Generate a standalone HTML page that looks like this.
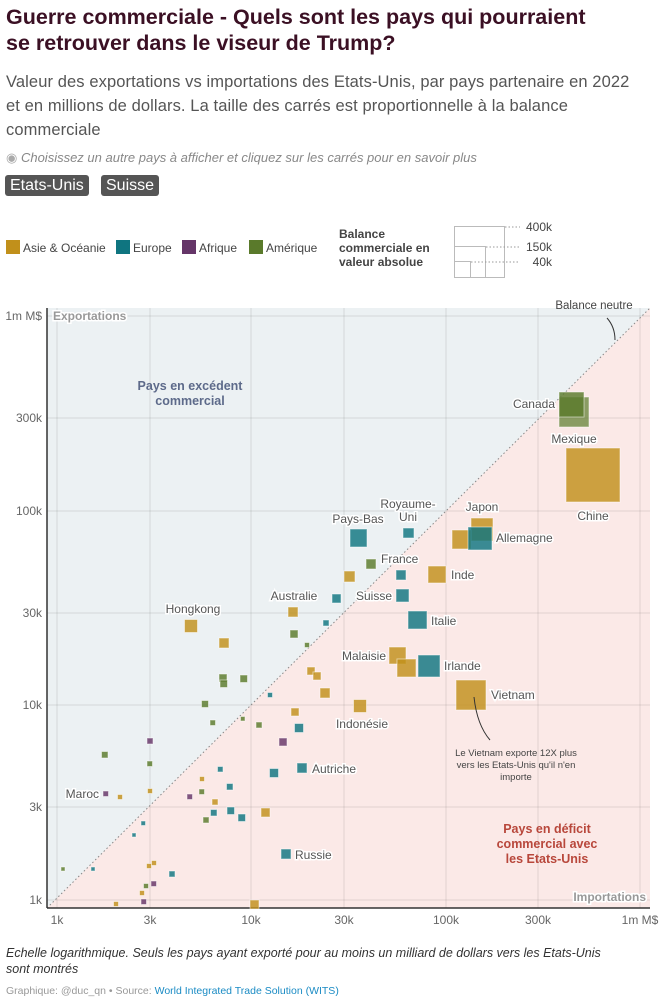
<!DOCTYPE html>
<html><head><meta charset="utf-8"><style>
body{margin:0;width:666px;height:998px;background:#fff;font-family:"Liberation Sans",sans-serif;overflow:hidden;position:relative}
.t{position:absolute;left:6px;top:4px;font-size:21.5px;font-weight:bold;color:#3b1024;line-height:26px;width:598px}
.s{position:absolute;left:6px;top:70px;font-size:16.5px;color:#555;line-height:24px;width:630px;letter-spacing:0.1px}
.n{position:absolute;left:6px;top:150px;font-size:13px;font-style:italic;color:#888}
.b{position:absolute;top:175px;height:21px;background:#555;color:#fff;font-size:16px;line-height:21px;padding:0 5px;border-radius:3px}
.f{position:absolute;left:6px;top:945px;font-size:12.5px;font-style:italic;color:#333;line-height:16px;width:620px}
.g{position:absolute;left:6px;top:985px;font-size:10.5px;color:#999}
</style></head><body>
<div class="t">Guerre commerciale - Quels sont les pays qui pourraient se retrouver dans le viseur de Trump?</div>
<div class="s">Valeur des exportations vs importations des Etats-Unis, par pays partenaire en 2022 et en millions de dollars. La taille des carrés est proportionnelle à la balance commerciale</div>
<div class="n"><span style="font-style:normal;color:#aaa">◉</span> Choisissez un autre pays à afficher et cliquez sur les carrés pour en savoir plus</div>
<div class="b" style="left:5px">Etats-Unis</div><div class="b" style="left:101px">Suisse</div>
<svg width="666" height="998" style="position:absolute;left:0;top:0" font-family="Liberation Sans, sans-serif">
<g font-size="12" fill="#444">
<rect x="6" y="240" width="14" height="14" fill="#c1901b"/><text x="23" y="252">Asie &amp; Océanie</text>
<rect x="116" y="240" width="14" height="14" fill="#0f7580"/><text x="133" y="252">Europe</text>
<rect x="182" y="240" width="14" height="14" fill="#653568"/><text x="199" y="252">Afrique</text>
<rect x="249" y="240" width="14" height="14" fill="#5a7a2b"/><text x="266" y="252">Amérique</text>
</g>
<g font-size="12" font-weight="bold" fill="#444"><text x="339" y="238">Balance</text><text x="339" y="252">commerciale en</text><text x="339" y="266">valeur absolue</text></g>
<g fill="none" stroke="#bbb"><rect x="454.5" y="226.5" width="50" height="51"/><rect x="454.5" y="246.5" width="31" height="31"/><rect x="454.5" y="261.5" width="16" height="16"/></g>
<g stroke="#999" stroke-dasharray="1.5,2"><line x1="505" y1="227" x2="520" y2="227"/><line x1="486" y1="247" x2="520" y2="247"/><line x1="471" y1="262" x2="520" y2="262"/></g>
<g font-size="12" fill="#444" text-anchor="end"><text x="552" y="231">400k</text><text x="552" y="251">150k</text><text x="552" y="266">40k</text></g>
<polygon points="47,308 650,308 47,908" fill="#ecf1f3"/>
<polygon points="650,308 650,908 47,908" fill="#fbe9e7"/>
<g stroke="#000" stroke-opacity="0.1">
<line x1="57" y1="308" x2="57" y2="908"/><line x1="150" y1="308" x2="150" y2="908"/><line x1="251" y1="308" x2="251" y2="908"/><line x1="344" y1="308" x2="344" y2="908"/><line x1="446" y1="308" x2="446" y2="908"/><line x1="538" y1="308" x2="538" y2="908"/><line x1="640" y1="308" x2="640" y2="908"/>
<line x1="47" y1="316" x2="650" y2="316"/><line x1="47" y1="418" x2="650" y2="418"/><line x1="47" y1="511" x2="650" y2="511"/><line x1="47" y1="613" x2="650" y2="613"/><line x1="47" y1="705" x2="650" y2="705"/><line x1="47" y1="807" x2="650" y2="807"/><line x1="47" y1="900" x2="650" y2="900"/>
</g>
<line x1="47" y1="908" x2="650" y2="308" stroke="#888" stroke-dasharray="1.5,2.5"/>
<line x1="47" y1="308" x2="47" y2="908" stroke="#333" stroke-width="1.5"/>
<line x1="47" y1="908" x2="650" y2="908" stroke="#333" stroke-width="1.5"/>
<g font-size="12" fill="#666" text-anchor="end"><text x="42" y="320">1m M$</text><text x="42" y="422">300k</text><text x="42" y="515">100k</text><text x="42" y="617">30k</text><text x="42" y="709">10k</text><text x="42" y="811">3k</text><text x="42" y="904">1k</text></g>
<g font-size="12" fill="#666" text-anchor="middle"><text x="57" y="924">1k</text><text x="150" y="924">3k</text><text x="251" y="924">10k</text><text x="344" y="924">30k</text><text x="446" y="924">100k</text><text x="538" y="924">300k</text><text x="640" y="924">1m M$</text></g>
<g font-size="12" font-weight="bold" fill="#999" stroke="#fff" stroke-width="3" paint-order="stroke"><text x="53" y="320">Exportations</text><text x="646" y="901" text-anchor="end">Importations</text></g>
<g font-size="12.5" font-weight="bold" fill="#5d6a8a" text-anchor="middle"><text x="190" y="390">Pays en excédent</text><text x="190" y="405">commercial</text></g>
<g font-size="12.5" font-weight="bold" fill="#b8473b" text-anchor="middle"><text x="547" y="833">Pays en déficit</text><text x="547" y="848">commercial avec</text><text x="547" y="863">les Etats-Unis</text></g>
<text x="594" y="309" font-size="11.5" fill="#444" text-anchor="middle">Balance neutre</text>
<path d="M607,318 Q615,327 615,340" fill="none" stroke="#333"/>
<g stroke="#fff" stroke-opacity="0.5" stroke-width="1" fill-opacity="0.82">
<g fill="#c1901b">
<rect x="566" y="448" width="54" height="54"/><rect x="471" y="518" width="22" height="23"/><rect x="452" y="530" width="19" height="19"/>
<rect x="344" y="571" width="11" height="11"/><rect x="428" y="566" width="18" height="17"/><rect x="389" y="647" width="17" height="17"/><rect x="397" y="659" width="19" height="18"/>
<rect x="456" y="680" width="30" height="30"/>
<rect x="184.5" y="619.5" width="13" height="13"/><rect x="219" y="638" width="10" height="10"/><rect x="288" y="607" width="10" height="10"/>
<rect x="307" y="667" width="8" height="8"/><rect x="313" y="672" width="8" height="8"/><rect x="320" y="688" width="10" height="10"/><rect x="353.5" y="699.5" width="13" height="13"/>
<rect x="291" y="708" width="8" height="8"/><rect x="199.5" y="776.5" width="5" height="5"/><rect x="147.5" y="788.5" width="5" height="5"/><rect x="117.5" y="794.5" width="5" height="5"/>
<rect x="212" y="799" width="6" height="6"/><rect x="261" y="808" width="9" height="9"/><rect x="146.5" y="863.5" width="5" height="5"/><rect x="151.5" y="860.5" width="5" height="5"/>
<rect x="139.5" y="890.5" width="5" height="5"/><rect x="113.5" y="901.5" width="5" height="5"/><rect x="250" y="900" width="9" height="9"/>
</g>
<g fill="#0f7580">
<rect x="468" y="527" width="24" height="23"/><rect x="350" y="529" width="17" height="18"/><rect x="403" y="528" width="11" height="10"/><rect x="396" y="570" width="10" height="10"/>
<rect x="332" y="594" width="9" height="9"/><rect x="396" y="589" width="13" height="13"/><rect x="408" y="611" width="19" height="18"/><rect x="418" y="655" width="22" height="22"/>
<rect x="323" y="620" width="6" height="6"/><rect x="267.5" y="692.5" width="5" height="5"/><rect x="294.5" y="723.5" width="9" height="9"/><rect x="217.5" y="766.5" width="5.5" height="5.5"/>
<rect x="269.5" y="768.5" width="9" height="9"/><rect x="297" y="763" width="10" height="10"/><rect x="226.5" y="783.5" width="6.5" height="6.5"/><rect x="210.5" y="809.5" width="6.5" height="6.5"/>
<rect x="227" y="807" width="7.5" height="7.5"/><rect x="238" y="814" width="7.5" height="7.5"/><rect x="141" y="821" width="4.5" height="4.5"/><rect x="132" y="833" width="4" height="4"/>
<rect x="281" y="849" width="10" height="10"/><rect x="91" y="867" width="4" height="4"/><rect x="169" y="871" width="6" height="6"/>
</g>
<g fill="#5a7a2b">
<rect x="559" y="397" width="30" height="30" fill-opacity="0.7"/><rect x="559" y="392" width="25" height="25"/>
<rect x="366" y="559" width="10" height="10"/><rect x="290" y="630" width="8" height="8"/><rect x="304.5" y="642.5" width="5" height="5"/>
<rect x="219" y="674" width="8" height="8"/><rect x="220" y="680" width="7.5" height="7.5"/><rect x="240" y="675" width="7.5" height="7.5"/>
<rect x="201.5" y="700.5" width="7" height="7"/><rect x="210" y="720" width="5.5" height="5.5"/><rect x="240.5" y="716.5" width="4.5" height="4.5"/><rect x="256" y="722" width="6" height="6"/>
<rect x="101.5" y="751.5" width="6.5" height="6.5"/><rect x="147" y="761" width="5.5" height="5.5"/><rect x="199" y="789" width="5.5" height="5.5"/><rect x="203" y="817" width="6" height="6"/>
<rect x="61" y="867" width="4" height="4"/><rect x="143.5" y="883.5" width="5" height="5"/>
</g>
<g fill="#653568">
<rect x="279" y="738" width="8" height="8"/><rect x="147" y="738" width="6" height="6"/><rect x="103" y="791" width="5.5" height="5.5"/><rect x="187" y="794" width="5.5" height="5.5"/>
<rect x="151" y="881" width="5.5" height="5.5"/><rect x="141" y="899" width="5.5" height="5.5"/>
</g>
</g>
<path d="M474,697 Q477,725 490,740" fill="none" stroke="#333"/>
<g font-size="9.5" fill="#444" text-anchor="middle"><text x="516" y="756">Le Vietnam exporte 12X plus</text><text x="516" y="768">vers les Etats-Unis qu'il n'en</text><text x="516" y="780">importe</text></g>
<g font-size="12" fill="#555" stroke="#fff" stroke-width="3" paint-order="stroke">
<text x="555" y="408" text-anchor="end">Canada</text><text x="574" y="443" text-anchor="middle">Mexique</text><text x="593" y="520" text-anchor="middle">Chine</text>
<text x="482" y="511" text-anchor="middle">Japon</text><text x="496" y="542">Allemagne</text><text x="358" y="523" text-anchor="middle">Pays-Bas</text>
<text x="408" y="508" text-anchor="middle">Royaume-</text><text x="408" y="521" text-anchor="middle">Uni</text><text x="381" y="563">France</text>
<text x="451" y="579">Inde</text><text x="392" y="600" text-anchor="end">Suisse</text><text x="431" y="625">Italie</text>
<text x="386" y="660" text-anchor="end">Malaisie</text><text x="444" y="670">Irlande</text><text x="491" y="699">Vietnam</text>
<text x="362" y="728" text-anchor="middle">Indonésie</text><text x="193" y="613" text-anchor="middle">Hongkong</text><text x="294" y="600" text-anchor="middle">Australie</text>
<text x="312" y="773">Autriche</text><text x="295" y="859">Russie</text><text x="99" y="798" text-anchor="end">Maroc</text>
</g>
</svg>
<div class="f">Echelle logarithmique. Seuls les pays ayant exporté pour au moins un milliard de dollars vers les Etats-Unis sont montrés</div>
<div class="g">Graphique: @duc_qn • Source: <span style="color:#1a8bc4">World Integrated Trade Solution (WITS)</span></div>
</body></html>
